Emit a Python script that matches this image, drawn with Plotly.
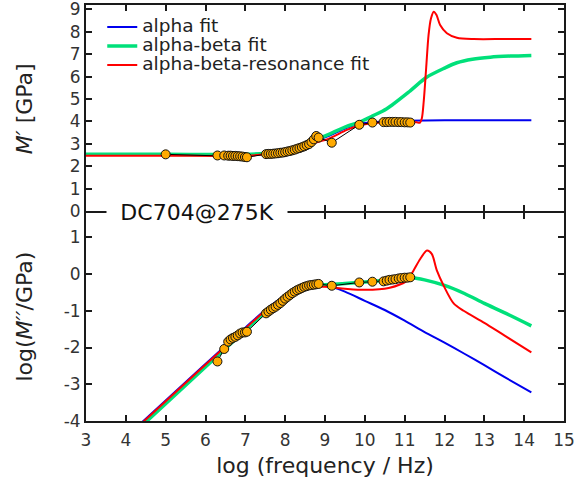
import plotly.graph_objects as go
from plotly.subplots import make_subplots

# ---- measured data ----
freq = [5.0, 6.30, 6.47, 6.57, 6.63, 6.69, 6.75, 6.81, 6.87, 6.93, 6.99, 7.04,
        7.52, 7.58, 7.64, 7.70, 7.76, 7.82, 7.88, 7.94, 8.00, 8.06, 8.12, 8.18,
        8.24, 8.30, 8.36, 8.42, 8.48, 8.54, 8.60, 8.66, 8.72, 8.78, 8.84,
        9.17, 9.86, 10.19,
        10.47, 10.55, 10.62, 10.70, 10.77, 10.85, 10.92, 11.00, 11.07, 11.14]
m_real = [2.53,
          2.48, 2.48, 2.47, 2.47, 2.46, 2.46, 2.45, 2.44, 2.43, 2.41, 2.40,
          2.54, 2.55, 2.55, 2.56, 2.57, 2.58, 2.60, 2.61, 2.63, 2.66, 2.68, 2.71,
          2.74, 2.78, 2.81, 2.85, 2.89, 2.94, 2.99, 3.08, 3.20, 3.35, 3.28,
          3.05, 3.85, 3.95,
          3.97, 3.97, 3.98, 3.98, 3.98, 3.97, 3.97, 3.96, 3.96, 3.95]
m_imag_log = [None,
              -2.38, -2.04, -1.84, -1.78, -1.74, -1.71, -1.67, -1.62, -1.59, -1.59, -1.57,
              -1.07, -1.02, -0.97, -0.93, -0.89, -0.84, -0.79, -0.73, -0.67, -0.62, -0.57, -0.52,
              -0.48, -0.44, -0.41, -0.38, -0.35, -0.33, -0.31, -0.30, -0.29, -0.28, -0.27,
              -0.32, -0.23, -0.21,
              -0.20, -0.18, -0.16, -0.15, -0.14, -0.12, -0.11, -0.10, -0.10, -0.09]

# ---- fits, upper panel (M') ----
alpha_top_x = [3, 5, 7, 7.5, 8, 8.5, 9.05, 9.55, 9.88, 10.4, 11, 12, 13, 14.18]
alpha_top_y = [2.52, 2.52, 2.52, 2.57, 2.7, 2.97, 3.32, 3.72, 3.9, 3.99, 4.03, 4.05, 4.05, 4.05]
ab_top_x = [3, 5, 7, 7.5, 8, 8.5, 9.05, 9.5, 9.88, 10.2, 10.55, 11.14, 11.54, 12, 12.31, 12.7, 13.15, 13.65, 14.18]
ab_top_y = [2.53, 2.53, 2.53, 2.58, 2.72, 2.99, 3.39, 3.75, 3.98, 4.25, 4.57, 5.37, 5.96, 6.38, 6.62, 6.78, 6.87, 6.92, 6.95]
abr_top_x = [3, 5, 7, 7.5, 8, 8.5, 9.05, 9.55, 9.88, 10.39, 11.06, 11.3, 11.38, 11.43, 11.48, 11.54,
             11.60, 11.66, 11.73, 11.80, 11.89, 12.06, 12.31, 12.73, 13.5, 14.18]
abr_top_y = [2.47, 2.47, 2.47, 2.53, 2.67, 2.94, 3.2, 3.62, 3.83, 3.95, 4.0, 3.96, 3.94, 4.13, 4.93, 6.4,
             7.87, 8.6, 8.9, 8.75, 8.31, 7.94, 7.74, 7.68, 7.68, 7.68]

# ---- fits, lower panel (log M'') ----
alpha_bot_x = [3, 5, 7, 7.5, 8, 8.5, 8.9, 9.2, 9.5, 10, 10.5, 11, 11.5, 12, 12.5, 13, 13.5, 14.18]
alpha_bot_y = [-5.44, -3.44, -1.46, -0.98, -0.59, -0.36, -0.30, -0.36, -0.48, -0.73, -0.98, -1.27,
               -1.58, -1.87, -2.17, -2.48, -2.8, -3.22]
ab_bot_x = [3, 5, 7, 7.5, 8, 8.5, 9, 9.5, 10, 10.5, 11, 11.2, 11.5, 12, 12.5, 13, 13.5, 14.18]
ab_bot_y = [-5.53, -3.53, -1.53, -1.04, -0.62, -0.37, -0.29, -0.26, -0.22, -0.17, -0.11, -0.10,
            -0.16, -0.31, -0.53, -0.80, -1.05, -1.41]
abr_bot_x = [3, 5, 7, 7.5, 8, 8.5, 9, 9.5, 10, 10.6, 11.06, 11.22, 11.39, 11.56, 11.68, 11.81,
             11.98, 12.23, 12.48, 13, 13.5, 14.18]
abr_bot_y = [-5.46, -3.46, -1.48, -1.0, -0.6, -0.37, -0.35, -0.4, -0.43, -0.38, -0.18, 0.09, 0.41,
             0.64, 0.55, 0.09, -0.32, -0.80, -1.0, -1.33, -1.67, -2.13]

x_ticks = [3, 4, 5, 6, 7, 8, 9, 10, 11, 12, 13, 14, 15]
top_y_ticks = [0, 1, 2, 3, 4, 5, 6, 7, 8, 9]
bot_y_ticks = [-4, -3, -2, -1, 0, 1]
bot_y_labels = ["-4", "-3", "-2", "-1", "0", "1"]

names = ["alpha fit", "alpha-beta fit", "alpha-beta-resonance fit"]
colors = ["#0000EE", "#00E07A", "#FF0000"]
widths = [2, 3.5, 2]

fig = make_subplots(rows=2, cols=1, shared_xaxes=True, vertical_spacing=0)

top_sets = [(alpha_top_x, alpha_top_y), (ab_top_x, ab_top_y), (abr_top_x, abr_top_y)]
bot_sets = [(alpha_bot_x, alpha_bot_y), (ab_bot_x, ab_bot_y), (abr_bot_x, abr_bot_y)]

for i, (xs, ys) in enumerate(top_sets):
    fig.add_trace(go.Scatter(x=xs, y=ys, mode="lines",
                             name="<span style='font-size:18.5px'>%s</span>" % names[i],
                             line=dict(color=colors[i], width=widths[i], shape="spline", smoothing=0.8),
                             showlegend=True), row=1, col=1)
fig.add_trace(go.Scatter(x=freq, y=m_real, mode="lines+markers", showlegend=False,
                         line=dict(color="black", width=1),
                         marker=dict(size=9, color="#FFAA00", line=dict(color="#111111", width=1))),
              row=1, col=1)
for i, (xs, ys) in enumerate(bot_sets):
    fig.add_trace(go.Scatter(x=xs, y=ys, mode="lines", showlegend=False,
                             line=dict(color=colors[i], width=widths[i], shape="spline", smoothing=0.8)),
                  row=2, col=1)
fig.add_trace(go.Scatter(x=freq, y=m_imag_log, mode="lines+markers", showlegend=False,
                         line=dict(color="black", width=1),
                         marker=dict(size=9, color="#FFAA00", line=dict(color="#111111", width=1))),
              row=2, col=1)

ax_common = dict(showline=True, linecolor="#1a1a1a", linewidth=2, mirror="ticks",
                 ticks="inside", ticklen=6, tickwidth=1.5, tickcolor="#1a1a1a",
                 showgrid=False, zeroline=False, ticklabeloverflow="allow", automargin=False,
                 tickfont=dict(size=17, color="#333333", family="DejaVu Sans"))

T = 5
H = 483.0 - 62 - T
bot_dom = [0, 208 / H]
top_dom = [210 / H, 1]
fig.update_xaxes(**ax_common, range=[3, 15], tickvals=x_ticks)
fig.update_xaxes(showticklabels=False, row=1, col=1)
fig.update_xaxes(title=dict(text="log (frequency / Hz)", font=dict(size=22, color="#222222"), standoff=8),
                 ticklabelstandoff=3, row=2, col=1)
fig.update_yaxes(**ax_common)
fig.update_yaxes(range=[0, 9.2], tickvals=top_y_ticks, domain=top_dom, row=1, col=1)
fig.update_yaxes(range=[-4, 1.66], tickvals=bot_y_ticks, ticktext=bot_y_labels, domain=bot_dom, row=2, col=1)

fig.update_layout(
    width=575, height=483,
    margin=dict(l=86, r=11, t=T, b=62, autoexpand=False),
    paper_bgcolor="white", plot_bgcolor="white",
    font=dict(family="DejaVu Sans", color="#222222"),
    legend=dict(x=0.034, y=0.982, xanchor="left", yanchor="top",
                bgcolor="rgba(0,0,0,0)", font=dict(size=12, color="#222222"),
                tracegroupgap=0),
    annotations=[
        dict(text="DC704@275K", x=(197 - 86) / 478, y=209 / H, xref="paper", yref="paper",
             xanchor="center", yanchor="middle", showarrow=False, bgcolor="white",
             width=176, borderpad=2, font=dict(size=22, color="#111111")),
        dict(text="<i>M′</i> [GPa]", x=-0.128, y=(421 - 108.5) / H, xref="paper", yref="paper",
             xanchor="center", yanchor="middle", showarrow=False, textangle=-90,
             font=dict(size=22, color="#222222")),
        dict(text="log(<i>M′′</i>/GPa)", x=-0.128, y=(421 - 316.7) / H, xref="paper", yref="paper",
             xanchor="center", yanchor="middle", showarrow=False, textangle=-90,
             font=dict(size=22, color="#222222")),
    ],
)

fig.write_html("out.html")
